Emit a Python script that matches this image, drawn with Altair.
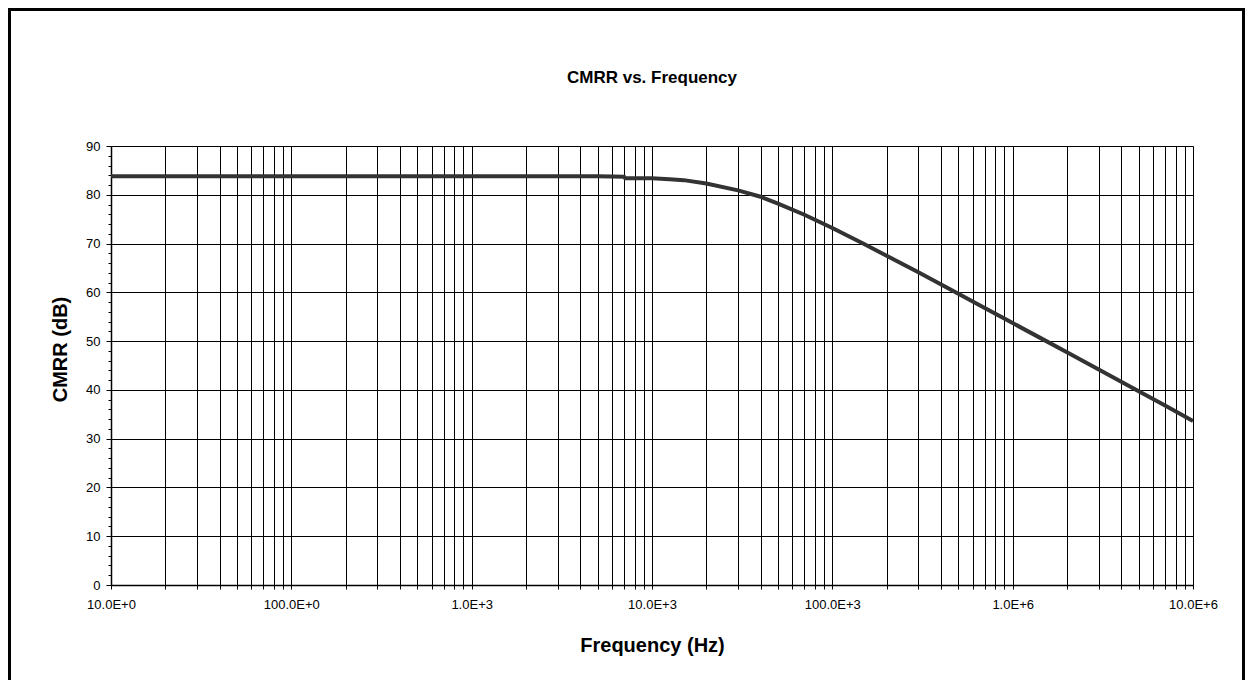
import altair as alt
import pandas as pd

# Data
freq_hz = [10, 100, 1000, 5000, 7000, 7100, 10000, 12500, 15000, 20000, 30000,
           40000, 50000, 70000, 100000, 150000, 200000, 300000, 500000, 700000,
           1000000, 1500000, 2000000, 3000000, 5000000, 7000000, 10000000]
cmrr_db = [83.8, 83.8, 83.8, 83.8, 83.7, 83.4, 83.4, 83.2, 83.0, 82.3, 80.9,
           79.6, 78.2, 75.9, 73.2, 69.9, 67.5, 64.1, 59.7, 56.8,
           53.7, 50.2, 47.7, 44.2, 39.7, 36.8, 33.6]

decades = [10, 100, 1000, 10000, 100000, 1000000, 10000000]
decade_labels = ["10.0E+0", "100.0E+0", "1.0E+3", "10.0E+3", "100.0E+3", "1.0E+6", "10.0E+6"]
y_ticks = list(range(0, 91, 2))
chart_title = ["CMRR vs. Frequency"]

df = pd.DataFrame({"freq": freq_hz, "cmrr": cmrr_db})

x_values = []
for d in decades[:-1]:
    for m in range(1, 10):
        x_values.append(m * d)
x_values.append(decades[-1])

label_expr = ""
for d, lab in zip(decades, decade_labels):
    label_expr += f"datum.value == {d} ? '{lab}' : "
label_expr += "''"

FONT = "Liberation Sans"

line = alt.Chart(df).mark_line(color="#333333", strokeWidth=4, clip=True).encode(
    x=alt.X("freq:Q",
            scale=alt.Scale(type="log", domain=[10, 10000000], nice=False),
            axis=alt.Axis(values=x_values, labelExpr=label_expr, labelOverlap=False,
                          labelFlush=False, grid=True, gridColor="black", gridWidth=1,
                          gridOpacity=1, tickColor="black", tickSize=4, tickWidth=1,
                          domainColor="black", domainWidth=1.5, labelFontSize=13,
                          labelColor="black", labelPadding=9, labelFont=FONT,
                          title="Frequency (Hz)", titleFont=FONT, titleFontSize=20,
                          titleFontWeight="bold", titleColor="black",
                          titleY=60, titleBaseline="middle")),
    y=alt.Y("cmrr:Q",
            scale=alt.Scale(domain=[0, 90], nice=False),
            axis=alt.Axis(values=y_ticks,
                          labelExpr="datum.value % 10 == 0 ? datum.label : ''",
                          labelOverlap=False, labelFlush=False,
                          grid=True, gridColor="black", gridWidth=1,
                          gridOpacity={"condition": {"test": "datum.value % 10 == 0", "value": 1}, "value": 0},
                          tickColor="black",
                          tickSize={"condition": {"test": "datum.value % 10 == 0", "value": 5}, "value": 3},
                          tickWidth=1, domainColor="black", domainWidth=1.5,
                          labelFontSize=13, labelColor="black", labelPadding=6, labelFont=FONT,
                          title="CMRR (dB)", titleFont=FONT, titleFontSize=20,
                          titleFontWeight="bold", titleColor="black",
                          titleX=-51, titleY=203, titleBaseline="middle", titleAngle=270)),
)

title_text = alt.Chart(pd.DataFrame({"t": chart_title})).mark_text(
    font=FONT, fontSize=17, fontWeight="bold", color="black",
    align="center", baseline="middle").encode(
    text="t:N", x=alt.value(541), y=alt.value(-68))

one = pd.DataFrame({"k": [0]})
border_left = alt.Chart(one).mark_rule(color="black", strokeWidth=3).encode(
    x=alt.value(-101.5), y=alt.value(-137), y2=alt.value(560))
border_top = alt.Chart(one).mark_rule(color="black", strokeWidth=3).encode(
    x=alt.value(-103), x2=alt.value(1134), y=alt.value(-136.5))
border_right = alt.Chart(one).mark_rule(color="black", strokeWidth=3).encode(
    x=alt.value(1132.5), y=alt.value(-137), y2=alt.value(560))

chart = alt.layer(line, title_text, border_left, border_top, border_right).properties(
    width=1082, height=439,
    autosize=alt.AutoSizeParams(type="none"),
    padding={"left": 103, "top": 138, "right": 52, "bottom": 95},
).configure_view(stroke="black", strokeWidth=1).configure(background="white")

chart.save("out.html", embed_options={"renderer": "svg", "actions": False})
